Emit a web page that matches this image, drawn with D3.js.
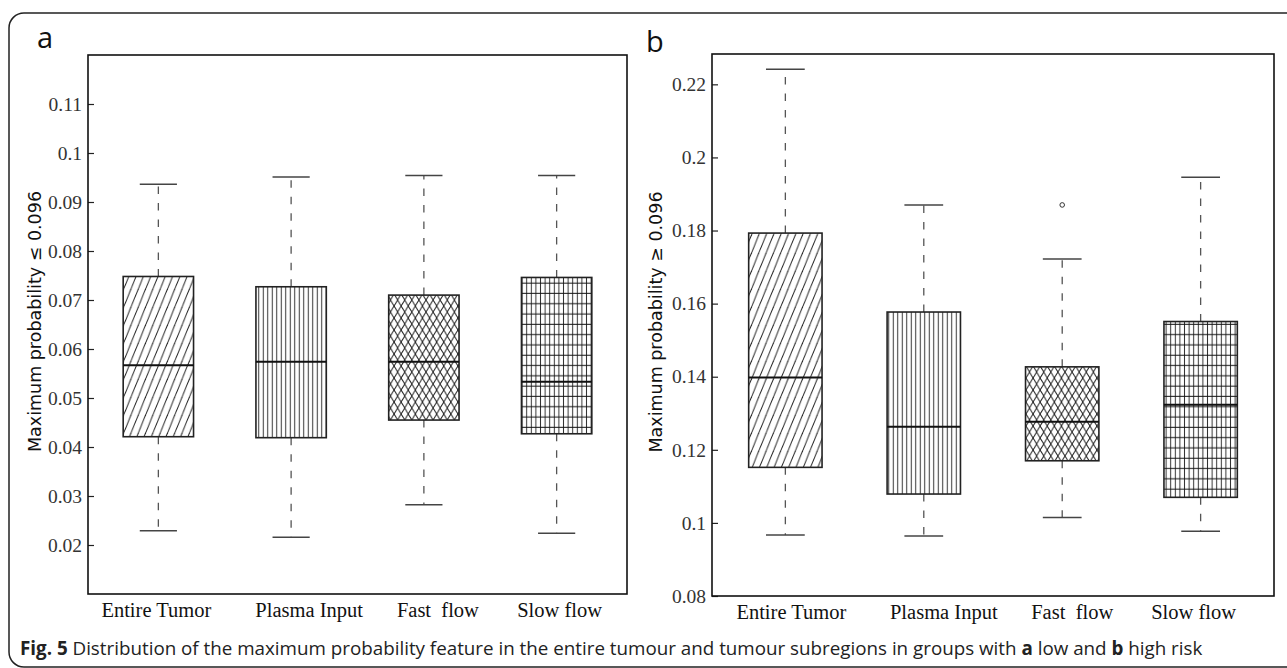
<!DOCTYPE html>
<html>
<head>
<meta charset="utf-8">
<script src="https://cdn.jsdelivr.net/npm/d3@7"></script>
<style>
  body { margin: 0; background: #fff; }
  svg { display: block; }
  .tick text { font-family: 'Liberation Serif', 'Times New Roman', serif; font-size: 19.5px; }
</style>
</head>
<body>
<script>
// Categories shared by both panels
const categories = ["Entire Tumor", "Plasma Input", "Fast  flow", "Slow flow"];
const patternIds = ["hatch-diag", "hatch-vert", "hatch-cross", "hatch-grid"];

// Panel a: low risk
const lowWhiskerLow = [0.0229, 0.0216, 0.0282, 0.0224];
const lowQ1 = [0.0421, 0.0419, 0.0455, 0.0427];
const lowMedian = [0.0567, 0.0574, 0.0574, 0.0533];
const lowQ3 = [0.0748, 0.0727, 0.0710, 0.0746];
const lowWhiskerHigh = [0.0936, 0.0951, 0.0954, 0.0954];
const lowOutliers = [[], [], [], []];
const lowTicks = [0.02, 0.03, 0.04, 0.05, 0.06, 0.07, 0.08, 0.09, 0.1, 0.11];

// Panel b: high risk
const highWhiskerLow = [0.0967, 0.0964, 0.1015, 0.0977];
const highQ1 = [0.1152, 0.1079, 0.1170, 0.1070];
const highMedian = [0.1398, 0.1263, 0.1277, 0.1323];
const highQ3 = [0.1793, 0.1577, 0.1427, 0.1551];
const highWhiskerHigh = [0.2241, 0.1870, 0.1722, 0.1946];
const highOutliers = [[], [], [0.1870], []];
const highTicks = [0.08, 0.1, 0.12, 0.14, 0.16, 0.18, 0.2, 0.22];

const width = 1287, height = 668;
const serif = "'Liberation Serif', 'Times New Roman', serif";

const svg = d3.select("body").append("svg")
    .attr("width", width)
    .attr("height", height);

// Outer rounded frame
svg.append("rect")
    .attr("x", 9).attr("y", 13)
    .attr("width", 1300).attr("height", 654)
    .attr("rx", 15)
    .attr("fill", "none")
    .attr("stroke", "#222")
    .attr("stroke-width", 1.5);

// Hatch patterns
const defs = svg.append("defs");

function tile(id, w, h) {
    return defs.append("pattern")
        .attr("id", id)
        .attr("patternUnits", "userSpaceOnUse")
        .attr("width", w)
        .attr("height", h);
}
function seg(p, x1, y1, x2, y2, color) {
    p.append("line")
        .attr("x1", x1).attr("y1", y1).attr("x2", x2).attr("y2", y2)
        .attr("stroke", color || "#222")
        .attr("stroke-width", 1);
}

let p = tile("hatch-diag", 7.3, 18);
seg(p, 0, 18, 7.3, 0);
seg(p, -7.3, 18, 0, 0);
seg(p, 7.3, 18, 14.6, 0);

p = tile("hatch-vert", 4.5, 10);
seg(p, 2.25, 0, 2.25, 10, "#333");

p = tile("hatch-cross", 7.1, 12);
seg(p, 0, 0, 7.1, 12);
seg(p, 7.1, 0, 0, 12);

p = tile("hatch-grid", 4.6, 10.3);
seg(p, 2.3, 0, 2.3, 10.3, "#333");
seg(p, 0, 5, 4.6, 5, "#111");

function drawPanel(cfg) {
    const x = d3.scalePoint()
        .domain(categories)
        .range([cfg.left, cfg.right])
        .padding(0.53);
    const y = d3.scaleLinear()
        .domain(cfg.domain)
        .range([cfg.bottom, cfg.top]);

    const step = x.step();
    const boxW = step * 0.53;
    const capW = step * 0.28;

    const g = svg.append("g");

    // Y axis, ticks pointing inward
    const axis = g.append("g")
        .attr("transform", `translate(${cfg.left},0)`)
        .call(d3.axisLeft(y)
            .tickValues(cfg.ticks)
            .tickSize(-6)
            .tickPadding(6)
            .tickFormat(d => String(+d.toFixed(2))));
    axis.attr("font-family", serif).attr("font-size", 19.5);
    axis.select(".domain").remove();
    axis.selectAll(".tick line").attr("stroke", "#222").attr("stroke-width", 1.2);
    axis.selectAll(".tick text").attr("fill", "#333");

    const rows = categories.map((c, i) => ({
        cat: c, i: i,
        lo: cfg.whiskerLow[i], q1: cfg.q1[i], med: cfg.median[i],
        q3: cfg.q3[i], hi: cfg.whiskerHigh[i], out: cfg.outliers[i]
    }));

    const box = g.selectAll(".box")
        .data(rows)
        .enter()
        .append("g")
        .attr("class", "box");

    // dashed whiskers
    box.append("line")
        .attr("x1", d => x(d.cat)).attr("x2", d => x(d.cat))
        .attr("y1", d => y(d.q3)).attr("y2", d => y(d.hi))
        .attr("stroke", "#555").attr("stroke-width", 1.3)
        .attr("stroke-dasharray", "7.5,9");
    box.append("line")
        .attr("x1", d => x(d.cat)).attr("x2", d => x(d.cat))
        .attr("y1", d => y(d.q1)).attr("y2", d => y(d.lo))
        .attr("stroke", "#555").attr("stroke-width", 1.3)
        .attr("stroke-dasharray", "7.5,9");

    // caps
    [d => d.hi, d => d.lo].forEach(acc => {
        box.append("line")
            .attr("x1", d => x(d.cat) - capW / 2).attr("x2", d => x(d.cat) + capW / 2)
            .attr("y1", d => y(acc(d))).attr("y2", d => y(acc(d)))
            .attr("stroke", "#444").attr("stroke-width", 1.5);
    });

    // hatched box
    box.append("rect")
        .attr("x", d => x(d.cat) - boxW / 2)
        .attr("width", boxW)
        .attr("y", d => y(d.q3))
        .attr("height", d => y(d.q1) - y(d.q3))
        .attr("fill", d => `url(#${patternIds[d.i]})`)
        .attr("stroke", "#222")
        .attr("stroke-width", 1.6);

    // median
    box.append("line")
        .attr("x1", d => x(d.cat) - boxW / 2).attr("x2", d => x(d.cat) + boxW / 2)
        .attr("y1", d => y(d.med)).attr("y2", d => y(d.med))
        .attr("stroke", "#111").attr("stroke-width", 2);

    // outliers
    box.selectAll(".outlier")
        .data(d => d.out.map(v => ({ cat: d.cat, v: v })))
        .enter()
        .append("circle")
        .attr("cx", d => x(d.cat))
        .attr("cy", d => y(d.v))
        .attr("r", 2.3)
        .attr("fill", "none")
        .attr("stroke", "#333")
        .attr("stroke-width", 1);

    // axes frame
    g.append("rect")
        .attr("x", cfg.left).attr("y", cfg.top)
        .attr("width", cfg.right - cfg.left)
        .attr("height", cfg.bottom - cfg.top)
        .attr("fill", "none")
        .attr("stroke", "#111")
        .attr("stroke-width", 1.6);

    // category labels
    g.selectAll(".cat-label")
        .data(categories)
        .enter()
        .append("text")
        .attr("class", "cat-label")
        .attr("x", (d, i) => x(d) + cfg.labelShift[i])
        .attr("y", cfg.bottom + 23)
        .attr("text-anchor", "middle")
        .attr("fill", "#111")
        .style("white-space", "pre")
        .style("font-family", serif)
        .style("font-size", "20.5px")
        .text(d => d);

    // y axis title
    g.append("text")
        .attr("transform", `translate(${cfg.titleX},${(cfg.top + cfg.bottom) / 2 - 3}) rotate(-90)`)
        .attr("text-anchor", "middle")
        .attr("dominant-baseline", "central")
        .attr("fill", "#111")
        .style("font-family", "'DejaVu Sans', sans-serif")
        .style("font-size", "17.5px")
        .text(cfg.title);

    // panel letter
    g.append("text")
        .attr("x", cfg.letterX)
        .attr("y", cfg.letterY)
        .attr("fill", "#111")
        .style("font-family", "'Open Sans', sans-serif")
        .style("font-size", "29px")
        .text(cfg.letter);
}

drawPanel({
    left: 88, right: 627, top: 55, bottom: 594,
    domain: [0.01, 0.12], ticks: lowTicks,
    whiskerLow: lowWhiskerLow, q1: lowQ1, median: lowMedian,
    q3: lowQ3, whiskerHigh: lowWhiskerHigh, outliers: lowOutliers,
    labelShift: [-2, 18, 14, 3],
    title: "Maximum probability \u2264 0.096", titleX: 35,
    letter: "a", letterX: 37, letterY: 48
});

drawPanel({
    left: 712, right: 1274, top: 54, bottom: 596,
    domain: [0.08, 0.2283], ticks: highTicks,
    whiskerLow: highWhiskerLow, q1: highQ1, median: highMedian,
    q3: highQ3, whiskerHigh: highWhiskerHigh, outliers: highOutliers,
    labelShift: [6, 20, 10, -7],
    title: "Maximum probability \u2265 0.096", titleX: 656,
    letter: "b", letterX: 646, letterY: 52
});

// Caption
const caption = svg.append("text")
    .attr("x", 20)
    .attr("y", 655)
    .attr("fill", "#222")
    .style("font-family", "'Open Sans', sans-serif")
    .style("font-size", "18.8px");
caption.append("tspan").attr("font-weight", "bold").text("Fig. 5");
caption.append("tspan").text(" Distribution of the maximum probability feature in the entire tumour and tumour subregions in groups with ");
caption.append("tspan").attr("font-weight", "bold").text("a");
caption.append("tspan").text(" low and ");
caption.append("tspan").attr("font-weight", "bold").text("b");
caption.append("tspan").text(" high risk");
</script>
</body>
</html>
